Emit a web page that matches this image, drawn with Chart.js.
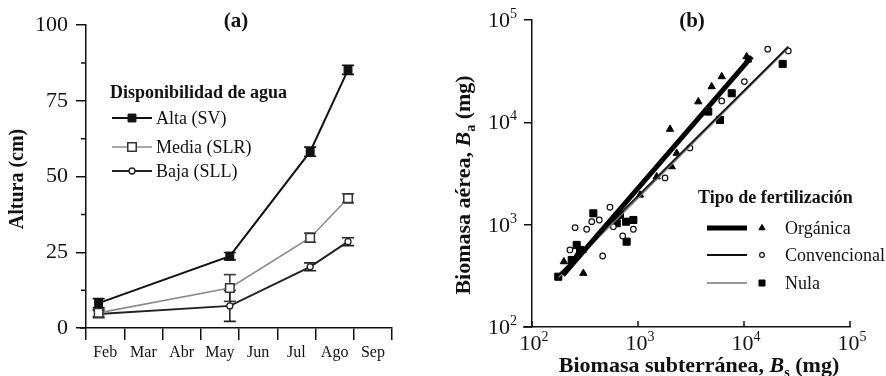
<!DOCTYPE html>
<html><head><meta charset="utf-8">
<script src="https://cdn.jsdelivr.net/npm/chart.js@4.4.1/dist/chart.umd.min.js"></script>
<style>
html,body{margin:0;padding:0;background:#fff;width:886px;height:376px;overflow:hidden;position:relative}
canvas{position:absolute;top:0}
#ca{left:0}
#cb{left:430px}
</style></head><body>
<canvas id="ca" width="430" height="376"></canvas>
<canvas id="cb" width="456" height="376"></canvas>
<script>
// ---------- Panel (a) data ----------
const months = ['Feb','Mar','Abr','May','Jun','Jul','Ago','Sep'];
const sampleTimes = [0.33, 3.76, 5.86, 6.85];   // months since start of Feb
const altaHeight = [8.2, 23.7, 58.2, 85.2];
const altaErr = [1.5, 1.2, 1.5, 1.5];
const mediaHeight = [5.0, 13.2, 29.8, 42.8];
const mediaErr = [1.2, 4.4, 1.5, 1.5];
const bajaHeight = [4.6, 7.3, 20.2, 28.5];
const bajaErr = [1.2, 5.1, 1.3, 1.3];
const heightTicks = [0, 25, 50, 75, 100];
const heightMinorTicks = [12.5, 37.5, 62.5, 87.5];
const waterSeries = ['Alta (SV)', 'Media (SLR)', 'Baja (SLL)'];
const waterLegendTitle = 'Disponibilidad de agua';

// ---------- Panel (b) data ----------
const orgX = [200, 305, 264, 300, 1045, 1500, 2005, 2080, 2317, 3706, 4955, 6166, 10590, 10910];
const orgY = [435, 335, 494, 560, 1950, 2944, 8570, 3690, 4990, 15900, 22330, 27990, 43850, 40700];
const convX = [255, 328, 366, 431, 544, 585, 717, 904, 464, 228, 1800, 3090, 6166, 10070, 16750, 26180];
const convY = [935, 902, 1070, 1111, 1480, 955, 775, 902, 494, 566, 2864, 5620, 16180, 25000, 51880, 49900];
const nulaX = [177, 237, 264, 284, 379, 781, 904, 771, 630, 676, 4600, 5940, 7660, 23170];
const nulaY = [310, 452, 634, 566, 1291, 682, 1111, 1069, 1033, 1245, 12740, 10550, 19230, 37240];
const fitOrgX = [196, 11830], fitOrgY = [322, 43850];
const fitConvX = [171, 26200], fitConvY = [310, 54950];
const fitNulaX = [178, 26000], fitNulaY = [305, 53000];
const powerTicks = [2, 3, 4, 5];
const fertTypes = ['Orgánica', 'Convencional', 'Nula'];
const fertLegendTitle = 'Tipo de fertilización';

const SERIF = '"Liberation Serif", "Times New Roman", serif';
const pts = (xs, ys) => xs.map((x, i) => ({x: x, y: ys[i]}));

function drawMarker(ctx, style, x, y, r, fill, stroke, bw) {
  ctx.save();
  ctx.fillStyle = fill; ctx.strokeStyle = stroke; ctx.lineWidth = bw;
  ctx.beginPath();
  if (style === 'rect') { const s = r * Math.SQRT1_2; ctx.rect(x - s, y - s, 2 * s, 2 * s); }
  else if (style === 'triangle') {
    ctx.moveTo(x, y - r); ctx.lineTo(x + r * 0.866, y + r * 0.5); ctx.lineTo(x - r * 0.866, y + r * 0.5); ctx.closePath();
  } else { ctx.arc(x, y, r, 0, Math.PI * 2); }
  ctx.fill(); if (bw > 0) ctx.stroke();
  ctx.restore();
}

function drawRich(ctx, parts, x, y, align) {
  let w = 0;
  parts.forEach(p => { ctx.font = p.font; p.w = ctx.measureText(p.t).width; w += p.w; });
  let cx = align === 'center' ? x - w / 2 : (align === 'right' ? x - w : x);
  ctx.textAlign = 'left'; ctx.textBaseline = 'alphabetic';
  parts.forEach(p => { ctx.font = p.font; ctx.fillText(p.t, cx, y + (p.dy || 0)); cx += p.w; });
}

// ---------- Panel (a) plugin ----------
const panelAPlugin = {
  id: 'panelA',
  beforeDatasetsDraw(chart) {
    const ctx = chart.ctx, xs = chart.scales.x, ys = chart.scales.y;
    chart.data.datasets.forEach(ds => {
      ctx.save(); ctx.strokeStyle = ds.errColor; ctx.lineWidth = 1.6;
      ds.data.forEach((p, j) => {
        const px = xs.getPixelForValue(p.x);
        const t = ys.getPixelForValue(p.y + ds.err[j]);
        const b = ys.getPixelForValue(p.y - ds.err[j]);
        ctx.beginPath();
        ctx.moveTo(px, t); ctx.lineTo(px, b);
        ctx.moveTo(px - 6, t); ctx.lineTo(px + 6, t);
        ctx.moveTo(px - 6, b); ctx.lineTo(px + 6, b);
        ctx.stroke();
      });
      ctx.restore();
    });
  },
  afterDraw(chart) {
    const ctx = chart.ctx, xs = chart.scales.x, ys = chart.scales.y, area = chart.chartArea;
    ctx.save();
    ctx.strokeStyle = '#111'; ctx.lineWidth = 1.5;
    ctx.beginPath();
    heightMinorTicks.forEach(v => { const y = ys.getPixelForValue(v); ctx.moveTo(area.left - 5, y); ctx.lineTo(area.left, y); });
    ctx.moveTo(area.left - 6, area.bottom); ctx.lineTo(area.left, area.bottom);
    ctx.stroke();
    ctx.fillStyle = '#111';
    // panel title
    ctx.font = 'bold 21px ' + SERIF; ctx.textAlign = 'center'; ctx.textBaseline = 'middle';
    ctx.fillText('(a)', 236, 22);
    // y title
    ctx.save(); ctx.translate(18, 179); ctx.rotate(-Math.PI / 2);
    ctx.font = 'bold 20px ' + SERIF; ctx.textAlign = 'center'; ctx.textBaseline = 'middle';
    ctx.fillText('Altura (cm)', 0, 0); ctx.restore();
    // legend
    ctx.font = 'bold 18px ' + SERIF; ctx.textAlign = 'left'; ctx.textBaseline = 'middle';
    ctx.fillText(waterLegendTitle, 110, 93);
    const rowsY = [118, 147, 171];
    chart.data.datasets.forEach((ds, i) => {
      const y = rowsY[i];
      ctx.strokeStyle = ds.borderColor; ctx.lineWidth = ds.borderWidth;
      ctx.beginPath(); ctx.moveTo(112, y); ctx.lineTo(152, y); ctx.stroke();
      drawMarker(ctx, ds.pointStyle, 132, y, ds.pointRadius, ds.pointBackgroundColor, ds.pointBorderColor, ds.pointBorderWidth);
      ctx.fillStyle = '#111'; ctx.font = '18px ' + SERIF; ctx.textBaseline = 'middle';
      ctx.fillText(ds.label, 156, y + 1);
    });
    ctx.restore();
  }
};

new Chart(document.getElementById('ca'), {
  type: 'line',
  data: { datasets: [
    {label: waterSeries[0], data: pts(sampleTimes, altaHeight), err: altaErr, errColor: '#111',
     borderColor: '#111', borderWidth: 2, pointStyle: 'rect', pointRadius: 5.6,
     pointBackgroundColor: '#111', pointBorderColor: '#111', pointBorderWidth: 1},
    {label: waterSeries[1], data: pts(sampleTimes, mediaHeight), err: mediaErr, errColor: '#444',
     borderColor: '#8a8a8a', borderWidth: 1.6, pointStyle: 'rect', pointRadius: 6,
     pointBackgroundColor: '#fff', pointBorderColor: '#333', pointBorderWidth: 1.5},
    {label: waterSeries[2], data: pts(sampleTimes, bajaHeight), err: bajaErr, errColor: '#222',
     borderColor: '#222', borderWidth: 2, pointStyle: 'circle', pointRadius: 3,
     pointBackgroundColor: '#fff', pointBorderColor: '#222', pointBorderWidth: 1.3}
  ]},
  options: {
    responsive: false, animation: false, devicePixelRatio: 1,
    layout: {padding: {left: 0, right: 38, top: 25, bottom: 0}},
    plugins: {legend: {display: false}, tooltip: {enabled: false}, title: {display: false}},
    scales: {
      x: {type: 'linear', min: 0, max: 8,
        afterBuildTicks: s => { s.ticks = months.map((m, i) => ({value: i + 0.5})); },
        afterFit: s => { s.height = 48; },
        ticks: {autoSkip: false, maxRotation: 0, padding: 3, color: '#111',
                font: {family: SERIF, size: 16}, callback: (v, i) => months[i]},
        grid: {display: true, drawOnChartArea: false, offset: true, tickLength: 12, color: '#111', lineWidth: 1.5},
        border: {display: true, color: '#111', width: 1.5}
      },
      y: {type: 'linear', min: 0, max: 100,
        afterBuildTicks: s => { s.ticks = heightTicks.map(v => ({value: v})); },
        afterFit: s => { s.width = 86; },
        ticks: {padding: 8, color: '#111', font: {family: SERIF, size: 22}},
        grid: {display: true, drawOnChartArea: false, tickLength: 10, color: '#111', lineWidth: 1.5},
        border: {display: true, color: '#111', width: 1.5}
      }
    }
  },
  plugins: [panelAPlugin]
});

// ---------- Panel (b) plugin ----------
const panelBPlugin = {
  id: 'panelB',
  afterDraw(chart) {
    const ctx = chart.ctx, xs = chart.scales.x, ys = chart.scales.y, area = chart.chartArea;
    ctx.save();
    ctx.strokeStyle = '#111'; ctx.lineWidth = 1.5;
    ctx.beginPath();
    powerTicks.forEach(p => { const x = xs.getPixelForValue(Math.pow(10, p)); ctx.moveTo(x, area.bottom); ctx.lineTo(x, area.bottom - 6); });
    ctx.moveTo(area.left - 9, area.bottom); ctx.lineTo(area.left, area.bottom);
    ctx.stroke();
    ctx.fillStyle = '#111';
    // tick labels with superscripts
    powerTicks.forEach(p => {
      const y = ys.getPixelForValue(Math.pow(10, p));
      drawRich(ctx, [{t: '10', font: '22px ' + SERIF}, {t: String(p), font: '14px ' + SERIF, dy: -9}], area.left - 15, y + 7, 'right');
      const x = xs.getPixelForValue(Math.pow(10, p));
      drawRich(ctx, [{t: '10', font: '22px ' + SERIF}, {t: String(p), font: '14px ' + SERIF, dy: -9}], x + 2, area.bottom + 23, 'center');
    });
    // panel title
    ctx.font = 'bold 21px ' + SERIF; ctx.textAlign = 'center'; ctx.textBaseline = 'middle';
    ctx.fillText('(b)', 262, 22);
    // axis titles
    const B = 'bold 22px ' + SERIF, BI = 'italic bold 22px ' + SERIF, SUB = 'bold 14px ' + SERIF;
    drawRich(ctx, [{t: 'Biomasa subterránea, ', font: B}, {t: 'B', font: BI}, {t: 's', font: SUB, dy: 5}, {t: ' (mg)', font: B}], 269, 372, 'center');
    ctx.save(); ctx.translate(33, 185); ctx.rotate(-Math.PI / 2);
    drawRich(ctx, [{t: 'Biomasa aérea, ', font: B}, {t: 'B', font: BI}, {t: 'a', font: SUB, dy: 5}, {t: ' (mg)', font: B}], 0, 7, 'center');
    ctx.restore();
    // legend
    ctx.font = 'bold 18px ' + SERIF; ctx.textAlign = 'left'; ctx.textBaseline = 'middle';
    ctx.fillText(fertLegendTitle, 268, 198);
    const rowsY = [228, 255, 283];
    for (let i = 0; i < 3; i++) {
      const line = chart.data.datasets[i], mk = chart.data.datasets[i + 3], y = rowsY[i];
      ctx.strokeStyle = line.borderColor; ctx.lineWidth = line.borderWidth;
      ctx.beginPath(); ctx.moveTo(277, y); ctx.lineTo(317, y); ctx.stroke();
      drawMarker(ctx, mk.pointStyle, 332, y, mk.pointRadius * 0.85, mk.backgroundColor, mk.borderColor, mk.borderWidth);
      ctx.fillStyle = '#111'; ctx.font = '18px ' + SERIF; ctx.textBaseline = 'middle';
      ctx.fillText(mk.label, 355, y + 1);
    }
    ctx.restore();
  }
};

new Chart(document.getElementById('cb'), {
  type: 'scatter',
  data: { datasets: [
    {type: 'line', label: 'Ajuste ' + fertTypes[0], data: pts(fitOrgX, fitOrgY), borderColor: '#000', borderWidth: 5, pointRadius: 0, fill: false},
    {type: 'line', label: 'Ajuste ' + fertTypes[1], data: pts(fitConvX, fitConvY), borderColor: '#111', borderWidth: 1.8, pointRadius: 0, fill: false},
    {type: 'line', label: 'Ajuste ' + fertTypes[2], data: pts(fitNulaX, fitNulaY), borderColor: '#777', borderWidth: 1.3, pointRadius: 0, fill: false},
    {label: fertTypes[0], data: pts(orgX, orgY), pointStyle: 'triangle', pointRadius: 4.2, backgroundColor: '#000', borderColor: '#000', borderWidth: 1},
    {label: fertTypes[1], data: pts(convX, convY), pointStyle: 'circle', pointRadius: 2.8, backgroundColor: '#fff', borderColor: '#111', borderWidth: 1.2},
    {label: fertTypes[2], data: pts(nulaX, nulaY), pointStyle: 'rect', pointRadius: 5, backgroundColor: '#000', borderColor: '#000', borderWidth: 1}
  ]},
  options: {
    responsive: false, animation: false, devicePixelRatio: 1,
    layout: {padding: {left: 0, right: 36, top: 20, bottom: 0}},
    plugins: {legend: {display: false}, tooltip: {enabled: false}, title: {display: false}},
    scales: {
      x: {type: 'logarithmic', min: 100, max: 100000,
        afterBuildTicks: s => { s.ticks = powerTicks.map(p => ({value: Math.pow(10, p)})); },
        afterFit: s => { s.height = 49; },
        ticks: {display: false},
        grid: {display: false},
        border: {display: true, color: '#111', width: 1.5}
      },
      y: {type: 'logarithmic', min: 100, max: 100000,
        afterBuildTicks: s => { s.ticks = powerTicks.map(p => ({value: Math.pow(10, p)})); },
        afterFit: s => { s.width = 102; },
        ticks: {display: false},
        grid: {display: true, drawOnChartArea: false, tickLength: 8, color: '#111', lineWidth: 1.5},
        border: {display: true, color: '#111', width: 1.5}
      }
    }
  },
  plugins: [panelBPlugin]
});
</script>
</body></html>
